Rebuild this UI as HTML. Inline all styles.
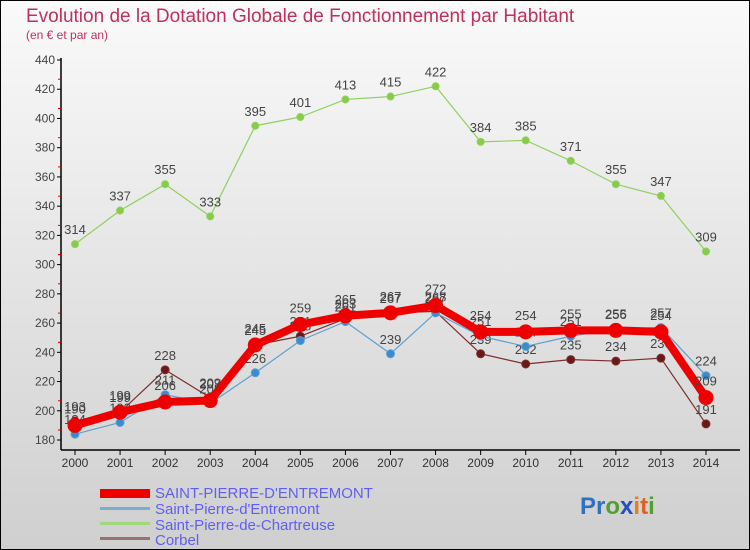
<!DOCTYPE html>
<html><head><meta charset="utf-8"><style>
body{margin:0;}
#wrap{width:750px;height:550px;position:relative;overflow:hidden;font-family:"Liberation Sans",sans-serif;}
</style></head><body>
<div id="wrap">
<svg id="chart" width="750" height="550" xmlns="http://www.w3.org/2000/svg">
<defs><linearGradient id="bg" x1="0" y1="0" x2="0" y2="1"><stop offset="0" stop-color="#fafafa"/><stop offset="1" stop-color="#cfcfcf"/></linearGradient></defs>
<rect x="0" y="0" width="750" height="550" fill="url(#bg)" stroke="#000" stroke-width="2"/>
<text x="26" y="22" font-size="19" fill="#c0305a">Evolution de la Dotation Globale de Fonctionnement par Habitant</text>
<text x="26" y="39" font-size="12" fill="#c0305a">(en € et par an)</text>
<g id="axes"></g><g id="series"></g>
<g>
<rect x="100" y="489" width="50" height="9" fill="#ee0000"/>
<text x="155" y="498" font-size="15" fill="#6060f0">SAINT-PIERRE-D'ENTREMONT</text>
<rect x="100" y="507" width="50" height="3" fill="#7aaed0"/>
<text x="155" y="514" font-size="15" fill="#6060f0">Saint-Pierre-d'Entremont</text>
<rect x="100" y="522" width="50" height="3" fill="#a0d880"/>
<text x="155" y="530" font-size="15" fill="#6060f0">Saint-Pierre-de-Chartreuse</text>
<rect x="100" y="537" width="50" height="3" fill="#9a7070"/>
<text x="155" y="545" font-size="15" fill="#6060f0">Corbel</text>
</g>
<text x="580" y="514" font-size="24" font-weight="bold"><tspan fill="#3070c0">Pr</tspan><tspan fill="#50a030">o</tspan><tspan fill="#2050c0">x</tspan><tspan fill="#e08020">i</tspan><tspan fill="#e06020">t</tspan><tspan fill="#50a030">i</tspan></text>
</svg>
</div>
<script>
const years=[2000,2001,2002,2003,2004,2005,2006,2007,2008,2009,2010,2011,2012,2013,2014];
const yTicks=[180,200,220,240,260,280,300,320,340,360,380,400,420,440];
const mainVals=[190,199,206,207,245,259,265,267,272,254,254,255,255,254,209];
const entremontVals=[184,192,211,205,226,248,261,239,267,251,244,251,256,257,224];
const chartreuseVals=[314,337,355,333,395,401,413,415,422,384,385,371,355,347,309];
const corbelVals=[193,199,228,209,245,251,263,267,268,239,232,235,234,236,191];
const NS="http://www.w3.org/2000/svg";
const xS=i=>75+i*(706-75)/14;
const yS=v=>440-(v-180)*(380/260);
function mk(t,a,p){const e=document.createElementNS(NS,t);for(const k in a)e.setAttribute(k,a[k]);p.appendChild(e);return e;}
const ax=document.getElementById('axes');
const yl=mk('line',{x1:61,y1:58,x2:61,y2:450,stroke:'#000','stroke-width':1.5},ax);


const xl=mk('line',{x1:61,y1:450,x2:740,y2:450,stroke:'#000','stroke-width':1.5},ax);


yTicks.forEach((v,i)=>{const y=yS(v);
mk('line',{x1:57,y1:y,x2:61,y2:y,stroke:'#000'},ax);
if(i<yTicks.length-1)mk('line',{x1:58,y1:y-10,x2:61,y2:y-10,stroke:'#e00000'},ax);
const t=mk('text',{x:55,y:y+4,'font-size':12,fill:'#444','text-anchor':'end'},ax);t.textContent=v;

});
years.forEach((yr,i)=>{const x=xS(i);
mk('line',{x1:x,y1:450,x2:x,y2:455,stroke:'#000'},ax);
const t=mk('text',{x:x,y:467,'font-size':12,fill:'#333','text-anchor':'middle'},ax);t.textContent=yr;

});
const sg=document.getElementById('series');
function series(vals,name,color,w,r,dot,labDy){
const g=mk('g',{},sg);


mk('polyline',{points:vals.map((v,i)=>xS(i)+','+yS(v)).join(' '),fill:'none',stroke:color,'stroke-width':w,'stroke-linejoin':'round'},g);
vals.forEach((v,i)=>{const c=mk('circle',{cx:xS(i),cy:yS(v),r:r,fill:dot,stroke:color,'stroke-width':1},g);


const t=mk('text',{x:xS(i),y:yS(v)+labDy,'font-size':13,fill:'#444','text-anchor':'middle'},g);t.textContent=v;

});}
series(chartreuseVals,'series-chartreuse','#90d060',1.2,3.5,'#88cc44',-10);
series(corbelVals,'series-corbel','#7a3030',1.2,4,'#6a1818',-10);
series(entremontVals,'series-entremont','#5fa0d0',1.2,4,'#3a8ad0',-10);
series(mainVals,'series-main','#ee0000',8,7,'#ee0000',-12);
</script>
</body></html>
